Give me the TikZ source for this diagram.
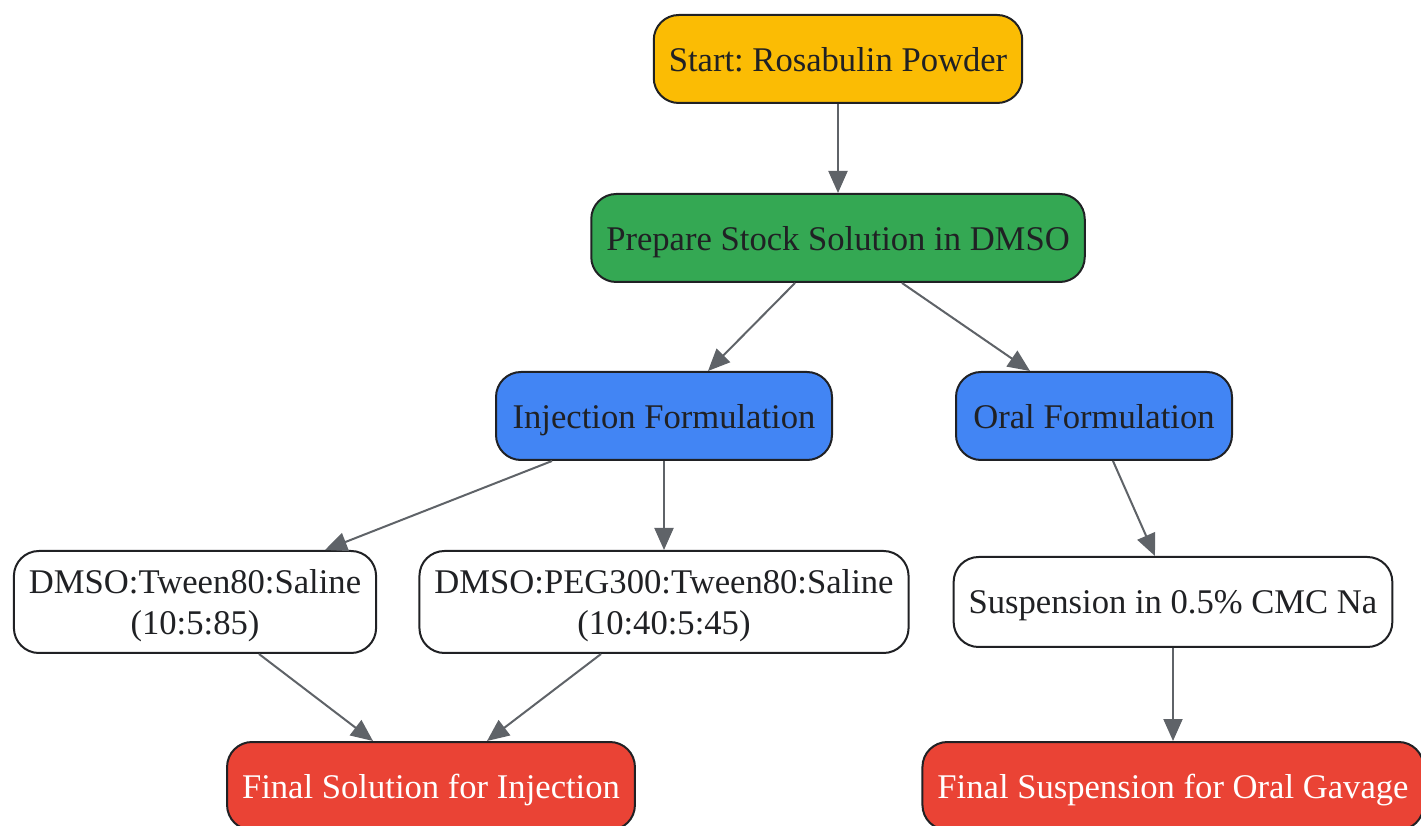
\documentclass[tikz,border=0pt]{standalone}
\usepackage{fontspec}
\setmainfont{Liberation Serif}
\frenchspacing
\usetikzlibrary{shapes,arrows.meta}
\definecolor{startyellow}{HTML}{FBBC04}
\definecolor{stockgreen}{HTML}{34A853}
\definecolor{formblue}{HTML}{4285F4}
\definecolor{finalred}{HTML}{EA4335}
\definecolor{edgegray}{HTML}{5F6368}
\definecolor{darktext}{HTML}{202124}
\tikzstyle{box} = [draw=darktext, line width=0.04cm, rectangle, rounded corners=0.5cm, text=darktext, align=center, inner xsep=0.3cm, minimum height=1.76cm, text depth=0pt, font=\fontsize{19.7pt}{23.8pt}\selectfont]
\tikzstyle{start} = [box, fill=startyellow]
\tikzstyle{stock} = [box, fill=stockgreen]
\tikzstyle{formulation} = [box, fill=formblue]
\tikzstyle{vehicle} = [box, fill=white]
\tikzstyle{final} = [box, fill=finalred, text=white]
\tikzstyle{line} = [draw=edgegray, line width=0.04cm, -{Triangle[length=0.44cm, width=0.38cm]}]

\begin{document}
\begin{tikzpicture}[node distance = 3.72cm, auto]
    \useasboundingbox (0,0) rectangle (28.42,-16.52);

    % Place nodes
    \node [start] at (16.76,-1.18) (powder) {Start: Rosabulin Powder};
    \node [stock, below of=powder, node distance = 3.58cm] (dmso-stock) {Prepare Stock Solution in DMSO};
    \node [formulation, below of=dmso-stock, node distance = 3.56cm, xshift=-3.48cm, minimum width=6.72cm] (injection) {Injection Formulation};
    \node [formulation, right of=injection, node distance = 8.6cm, minimum width=5.52cm] (oral) {Oral Formulation};
    \node [vehicle, below of=injection, minimum height=2.04cm] (peg-mix) {DMSO:PEG300:Tween80:Saline\\(10:40:5:45)};
    \node [vehicle, left of=peg-mix, node distance = 9.38cm, minimum height=2.04cm] (tween-mix) {DMSO:Tween80:Saline\\(10:5:85)};
    \node [vehicle, below of=oral, xshift=1.58cm, minimum height=1.8cm] (cmc-susp) {Suspension in 0.5\% CMC Na};
    \node [final, below of=peg-mix, node distance = 3.68cm, xshift=-4.66cm] (final-injection) {Final Solution for Injection};
    \node [final, below of=cmc-susp, node distance = 3.68cm] (final-oral) {Final Suspension for Oral Gavage};

    % Draw edges
    \path [line] (powder) -- (dmso-stock);
    \path [line] ([xshift=-0.86cm]dmso-stock.south) -- ([xshift=0.88cm]injection.north);
    \path [line] ([xshift=1.28cm]dmso-stock.south) -- ([xshift=-1.28cm]oral.north);
    \path [line] ([xshift=-2.24cm]injection.south) -- ([xshift=2.6cm]tween-mix.north);
    \path [line] (injection) -- (peg-mix);
    \path [line] ([xshift=0.38cm]oral.south) -- ([xshift=-0.36cm]cmc-susp.north);
    \path [line] ([xshift=1.28cm]tween-mix.south) -- ([xshift=-1.16cm]final-injection.north);
    \path [line] ([xshift=-1.26cm]peg-mix.south) -- ([xshift=1.12cm]final-injection.north);
    \path [line] (cmc-susp) -- (final-oral);
\end{tikzpicture}
\end{document}
